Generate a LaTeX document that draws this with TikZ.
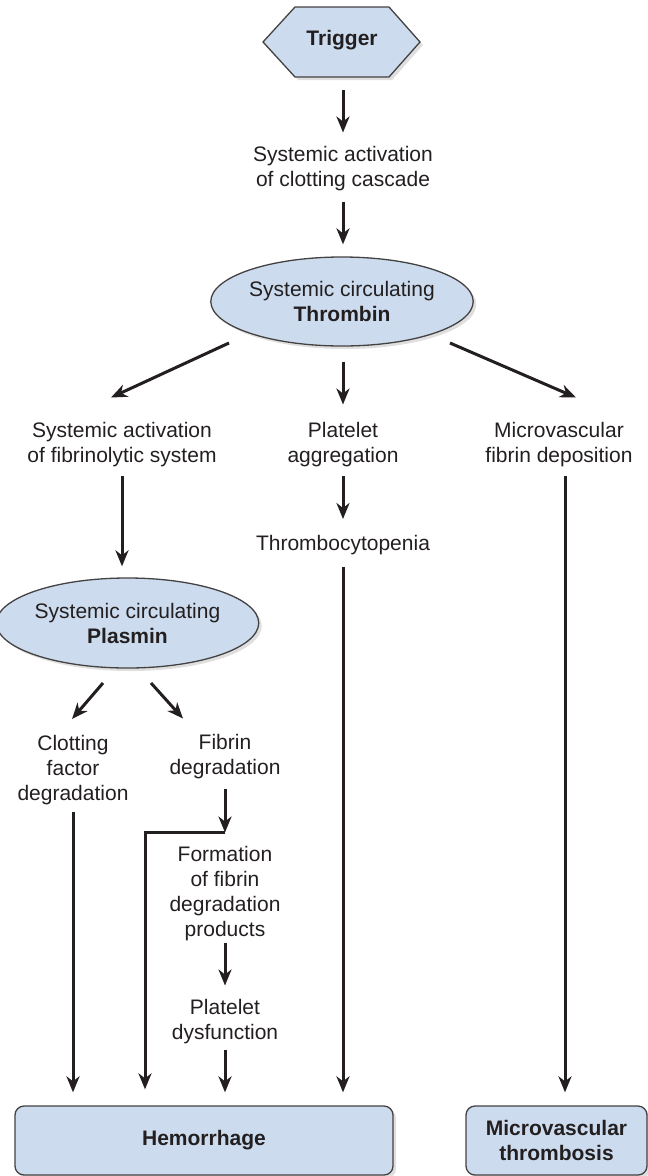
\documentclass[tikz,border=0pt]{standalone}
\usepackage{fontspec}
\setmainfont{Liberation Sans}
\usetikzlibrary{calc,shadows,arrows.meta,shapes.geometric}
\definecolor{boxblue}{RGB}{204,220,238}
\definecolor{ink}{RGB}{35,31,32}

\tikzset{
	txt/.style={align=center, inner sep=0pt, text=ink, font=\fontsize{21}{25}\selectfont},
	shade box/.style={fill=boxblue, draw=ink!85, line width=1.3pt, drop shadow={shadow xshift=3pt, shadow yshift=-3pt, opacity=.25}},
	bubble/.style={txt, shade box, ellipse, minimum width=240pt, minimum height=89pt},
	outcome/.style={txt, shade box, rounded corners=9pt, minimum height=69pt},
	flow/.style={-{Stealth[length=16pt,width=13pt,inset=5pt]}, line width=3pt, draw=ink},
}

\begin{document}
\begin{tikzpicture}[x=1pt,y=-1pt]
	\useasboundingbox (0,0) rectangle (648,1176);

	\coordinate (h1) at (263,42);
	\coordinate (h2) at (295,7);
	\coordinate (h3) at (389,7);
	\coordinate (h4) at (420,42);
	\coordinate (h5) at (389,77);
	\coordinate (h6) at (295,77);
	\draw[shade box, line join=miter] (h1) -- (h2) -- (h3) -- (h4) -- (h5) -- (h6) -- cycle;
	\node[txt, minimum height=74pt] (trig) at (342,40) {\textbf{Trigger}};

	\node[txt] (clot) at (343,169) {Systemic activation\\of clotting cascade};
	\node[bubble] (thr) at (342,301.5) {Systemic circulating\\\textbf{Thrombin}};
	\node[txt] (fibrino) at (122,445) {Systemic activation\\of fibrinolytic system};
	\node[txt] (aggr) at (343,445) {Platelet\\aggregation};
	\node[txt] (microdep) at (559,445) {Microvascular\\fibrin deposition};
	\node[txt] (thrombo) at (343,545) {Thrombocytopenia};
	\node[bubble, minimum width=241pt, minimum height=90pt] (pla) at (127.5,623) {Systemic circulating\\\textbf{Plasmin}};
	\node[txt] (clotfac) at (73,770) {Clotting\\factor\\degradation};
	\node[txt] (fibdeg) at (225,757) {Fibrin\\degradation};
	\node[txt] (formation) at (225,894) {Formation\\of fibrin\\degradation\\products};
	\node[txt] (dysf) at (225,1022) {Platelet\\dysfunction};
	\node[outcome, minimum width=378pt] (hem) at (204,1140.5) {\textbf{Hemorrhage}};
	\node[outcome, minimum width=181pt] (mthr) at (556.5,1140.5) {\textbf{Microvascular}\\\textbf{thrombosis}};

	\draw[flow] ($(trig.south)+(1,13)$) -- ($(clot.north)+(0,-14)$);
	\draw[flow] ($(clot.south)+(0,10.5)$) -- ($(thr.north)+(1,-12)$);
	\draw[flow] ($(thr.center)+(-113,41.5)$) -- ($(fibrino.north)+(-11,-25)$);
	\draw[flow] ($(thr.south)+(1,15)$) -- ($(aggr.north)+(0,-18)$);
	\draw[flow] ($(thr.center)+(108,41.5)$) -- ($(microdep.north)+(17,-25)$);
	\draw[flow] ($(fibrino.south)+(0,8.5)$) -- ($(fibrino.south |- pla.north)+(0,-11)$);
	\draw[flow] ($(aggr.south)+(0,8.5)$) -- ($(thrombo.north)+(0,-16)$);
	\draw[flow] ($(thrombo.south)+(0,12.5)$) -- ($(thrombo.south |- hem.north)+(0,-13)$);
	\draw[flow] ($(microdep.south)+(6,8.5)$) -- ($(microdep.south |- mthr.north)+(6,-13)$);
	\draw[flow] ($(pla.center)+(-24.5,60)$) -- ($(clotfac.north)+(-1,-16)$);
	\draw[flow] ($(pla.center)+(23.5,60)$) -- ($(fibdeg.north)+(-42,-16)$);
	\draw[flow] ($(clotfac.south)+(0,7.5)$) -- ($(clotfac.south |- hem.north)+(0,-13)$);
	\draw[flow] ($(fibdeg.south)+(0,9.5)$) -- ($(formation.north)+(0,-14)$);
	\draw[flow] ($(formation.north)+(0,-14)$) -| ($(hem.north)+(-59,-16)$);
	\draw[flow] ($(formation.south)+(0,1.5)$) -- ($(dysf.north)+(0,-14)$);
	\draw[flow] ($(dysf.south)+(0,5.5)$) -- ($(dysf.south |- hem.north)+(0,-13)$);
\end{tikzpicture}
\end{document}
